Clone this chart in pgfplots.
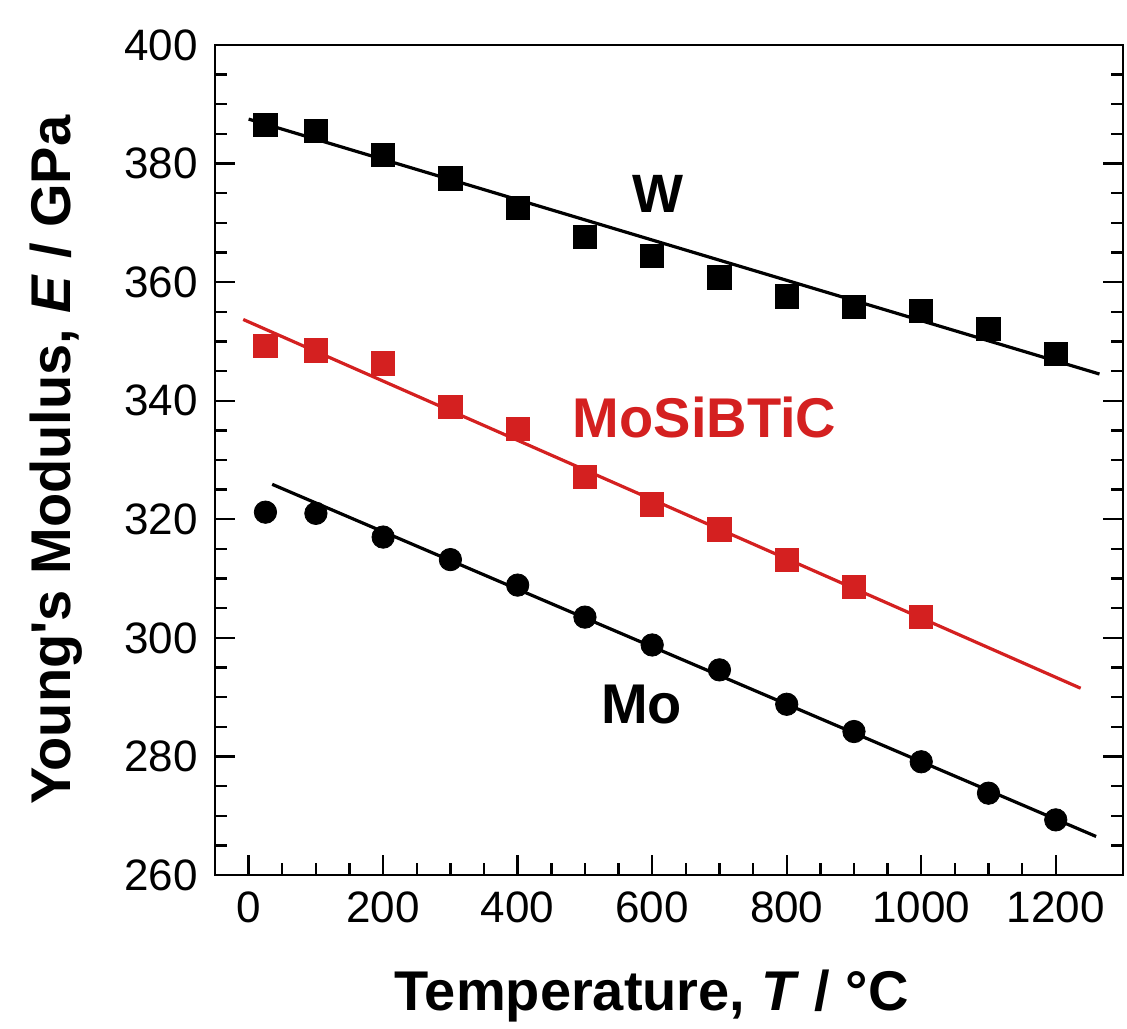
\documentclass[border=0pt]{standalone}
\usepackage{fontspec}
\setmainfont{Liberation Sans}
\usepackage{pgfplots}
\pgfplotsset{compat=1.18}
\definecolor{redline}{RGB}{212,32,32}

\begin{document}
\begin{tikzpicture}
\begin{axis}[
    width=454pt, height=415pt, scale only axis,
    xmin=-50, xmax=1300,
    ymin=260, ymax=400,
    xtick={0,200,...,1200},
    ytick={260,280,...,400},
    minor x tick num=3,
    minor y tick num=3,
    tick align=inside,
    xtick pos=bottom,
    ytick pos=both,
    major tick length=10pt,
    minor tick length=6pt,
    axis line style={line width=1.4pt},
    every tick/.style={line width=1.2pt, black},
    /pgf/number format/assume math mode=true,
    /pgf/number format/1000 sep={},
    tick label style={font=\fontsize{22}{22}\selectfont},
    xticklabel style={yshift=-5pt},
    yticklabel style={xshift=-5pt},
    xlabel={\textbf{Temperature, \textit{T} / °C}},
    ylabel={\textbf{Young\textquotesingle s Modulus, \textit{E} / GPa}},
    label style={font=\fontsize{28}{28}\selectfont},
    xlabel style={at={(axis description cs:0.481,-0.1627)}, anchor=base},
    ylabel style={at={(axis description cs:-0.175,0.5)}, anchor=center},
    clip=false,
]
\coordinate (sw) at (rel axis cs:0,0);

% W
\addplot[black, line width=1.6pt] coordinates {(0,387.5) (1265,344.5)};
\addplot[only marks, mark=square*, mark size=5.8pt, black] coordinates {
(25,386.5) (100,385.5) (200,381.4) (300,377.5) (400,372.5) (500,367.6)
(600,364.4) (700,360.8) (800,357.6) (900,355.8) (1000,355.1) (1100,352.1) (1200,347.9)
};

% MoSiBTiC
\addplot[redline, line width=1.6pt] coordinates {(-8,353.7) (1237,291.5)};
\addplot[only marks, mark=square*, mark size=5.8pt, redline] coordinates {
(25,349.3) (100,348.5) (200,346.3) (300,339.0) (400,335.2) (500,327.2)
(600,322.5) (700,318.3) (800,313.1) (900,308.6) (1000,303.6)
};

% Mo
\addplot[black, line width=1.6pt] coordinates {(35,325.9) (1260,266.5)};
\addplot[only marks, mark=*, mark size=5.6pt, black] coordinates {
(25,321.2) (100,321.0) (200,317.0) (300,313.2) (400,308.9) (500,303.5)
(600,298.8) (700,294.6) (800,288.8) (900,284.2) (1000,279.1) (1100,273.8) (1200,269.3)
};

\node[font=\fontsize{27}{27}\selectfont\bfseries] at (axis cs:608,374.8) {W};
\node[font=\fontsize{28}{28}\selectfont\bfseries, text=redline] at (axis cs:678,337.1) {MoSiBTiC};
\node[font=\fontsize{28}{28}\selectfont\bfseries] at (axis cs:584,288.7) {Mo};
\end{axis}
\pgfresetboundingbox
\path[use as bounding box] ([shift={(-107.5pt,-76.5pt)}]sw) rectangle ++(563.5pt,514pt);
\end{tikzpicture}
\end{document}
